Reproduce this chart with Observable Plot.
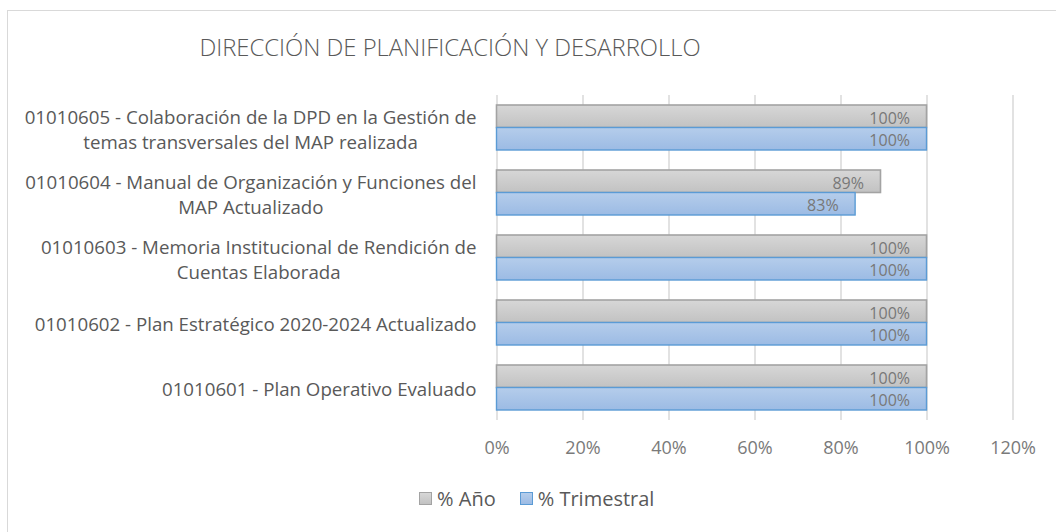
<!DOCTYPE html>
<html>
<head>
<meta charset="utf-8">
<script src="https://cdn.jsdelivr.net/npm/d3@7"></script>
<script src="https://cdn.jsdelivr.net/npm/@observablehq/plot@0.6"></script>
<style>
  body { margin: 0; background: #fff; }
  #wrap { position: relative; width: 1056px; height: 532px; overflow: hidden; font-family: "Open Sans", sans-serif; }
  #border { position: absolute; left: 7px; top: 10px; width: 1200px; height: 700px; border: 1.5px solid #d9d9d9; box-sizing: border-box; }
  #title { position: absolute; top: 30px; left: 0; width: 900px; text-align: center; font-size: 23.8px; font-weight: 300; color: #595959; white-space: nowrap; line-height: 34px; }
  #chart { position: absolute; left: 0; top: 0; }
  #legend { position: absolute; top: 484px; left: 419px; height: 28px; display: flex; align-items: center; font-size: 20px; color: #595959; white-space: nowrap; }
  .sw { width: 13px; height: 13px; display: inline-block; margin-right: 5px; box-sizing: border-box; }
  .item { display: flex; align-items: center; margin-right: 24px; }
</style>
</head>
<body>
<div id="wrap">
  <div id="border"></div>
  <div id="chart"></div>
  <div id="title"></div>
  <div id="legend"></div>
</div>
<script>
const title = "DIRECCIÓN DE PLANIFICACIÓN Y DESARROLLO";
const categories = [
  "01010605 - Colaboración de la DPD en la Gestión de temas transversales del MAP realizada",
  "01010604 - Manual de Organización y Funciones del MAP Actualizado",
  "01010603 - Memoria Institucional de Rendición de Cuentas Elaborada",
  "01010602 - Plan Estratégico 2020-2024 Actualizado",
  "01010601 - Plan Operativo Evaluado"
];
const categoryLabels = [
  "01010605 - Colaboración de la DPD en la Gestión de\ntemas transversales del MAP realizada",
  "01010604 - Manual de Organización y Funciones del\nMAP Actualizado",
  "01010603 - Memoria Institucional de Rendición de\nCuentas Elaborada",
  "01010602 - Plan Estratégico 2020-2024 Actualizado",
  "01010601 - Plan Operativo Evaluado"
];
const series = ["% Año", "% Trimestral"];
const anio = [1.00, 0.893, 1.00, 1.00, 1.00];
const trimestral = [1.00, 0.834, 1.00, 1.00, 1.00];
const xTicks = [0, 0.2, 0.4, 0.6, 0.8, 1.0, 1.2];

const colors = {
  "% Año": { top: "#d7d7d7", bottom: "#c2c2c2", stroke: "#a3a3a3", id: "gGray" },
  "% Trimestral": { top: "#b5cdeb", bottom: "#9cbbe4", stroke: "#5b9bd5", id: "gBlue" }
};

const rowsAnio = categories.map((c, i) => ({ cat: c, series: series[0], value: anio[i] }));
const rowsTrim = categories.map((c, i) => ({ cat: c, series: series[1], value: trimestral[i] }));
const labelOf = new Map(categories.map((c, i) => [c, categoryLabels[i]]));
const pct = v => Math.round(v * 100) + "%";

document.getElementById("title").textContent = title;

const FONT = "'Open Sans', sans-serif";
const chart = Plot.plot({
  width: 1056,
  height: 470,
  marginLeft: 496.5,
  marginRight: 43.5,
  marginTop: 95,
  marginBottom: 50,
  style: { fontFamily: FONT, fontSize: "18px", color: "#595959", background: "transparent" },
  x: { domain: [0, 1.2], ticks: xTicks, label: null },
  y: { domain: categories, padding: 0, label: null },
  marks: [
    Plot.gridX(xTicks, { stroke: "#d9d9d9", strokeOpacity: 1, strokeWidth: 1.5 }),
    Plot.barX(rowsAnio, { x: "value", y: "cat", fill: "url(#gGray)", stroke: colors["% Año"].stroke, strokeWidth: 1.6, insetTop: 10, insetBottom: 32.5 }),
    Plot.barX(rowsTrim, { x: "value", y: "cat", fill: "url(#gBlue)", stroke: colors["% Trimestral"].stroke, strokeWidth: 1.4, insetTop: 32.5, insetBottom: 10 }),
    Plot.text(rowsAnio, { x: "value", y: "cat", text: d => pct(d.value), textAnchor: "end", dx: -17, dy: -9, fill: "#787878", fontSize: 16 }),
    Plot.text(rowsTrim, { x: "value", y: "cat", text: d => pct(d.value), textAnchor: "end", dx: -17, dy: 12.5, fill: "#787878", fontSize: 16 }),
    Plot.axisX({ ticks: xTicks, tickSize: 0, tickPadding: 21, tickFormat: pct, fontSize: 18, fill: "#7a7a7a", label: null }),
    Plot.axisY({ tickSize: 0, tickPadding: 20.5, tickFormat: c => labelOf.get(c), lineHeight: 1.34, fontSize: 18.7, fill: "#595959", label: null })
  ]
});
document.getElementById("chart").append(chart);

// gradients for the bar fills
const defs = d3.select(chart).insert("defs", ":first-child");
for (const s of series) {
  const c = colors[s];
  const g = defs.append("linearGradient").attr("id", c.id).attr("x1", 0).attr("y1", 0).attr("x2", 0).attr("y2", 1);
  g.append("stop").attr("offset", "0%").attr("stop-color", c.top);
  g.append("stop").attr("offset", "100%").attr("stop-color", c.bottom);
}

// center wrapped category labels (Excel-like), keeping the block right-aligned
d3.select(chart).selectAll('g[aria-label="y-axis tick label"] text').each(function () {
  const ts = this.querySelectorAll("tspan");
  if (ts.length > 1) {
    const w = Math.max(...Array.from(ts, t => t.getComputedTextLength()));
    this.setAttribute("text-anchor", "middle");
    ts.forEach(t => t.setAttribute("x", -w / 2));
  }
});

// legend
const legend = d3.select("#legend");
for (const s of series) {
  const c = colors[s];
  const it = legend.append("div").attr("class", "item");
  it.append("span").attr("class", "sw")
    .style("background", `linear-gradient(${c.top}, ${c.bottom})`)
    .style("border", `1.5px solid ${c.stroke}`);
  it.append("span").text(s);
}
</script>
</body>
</html>
